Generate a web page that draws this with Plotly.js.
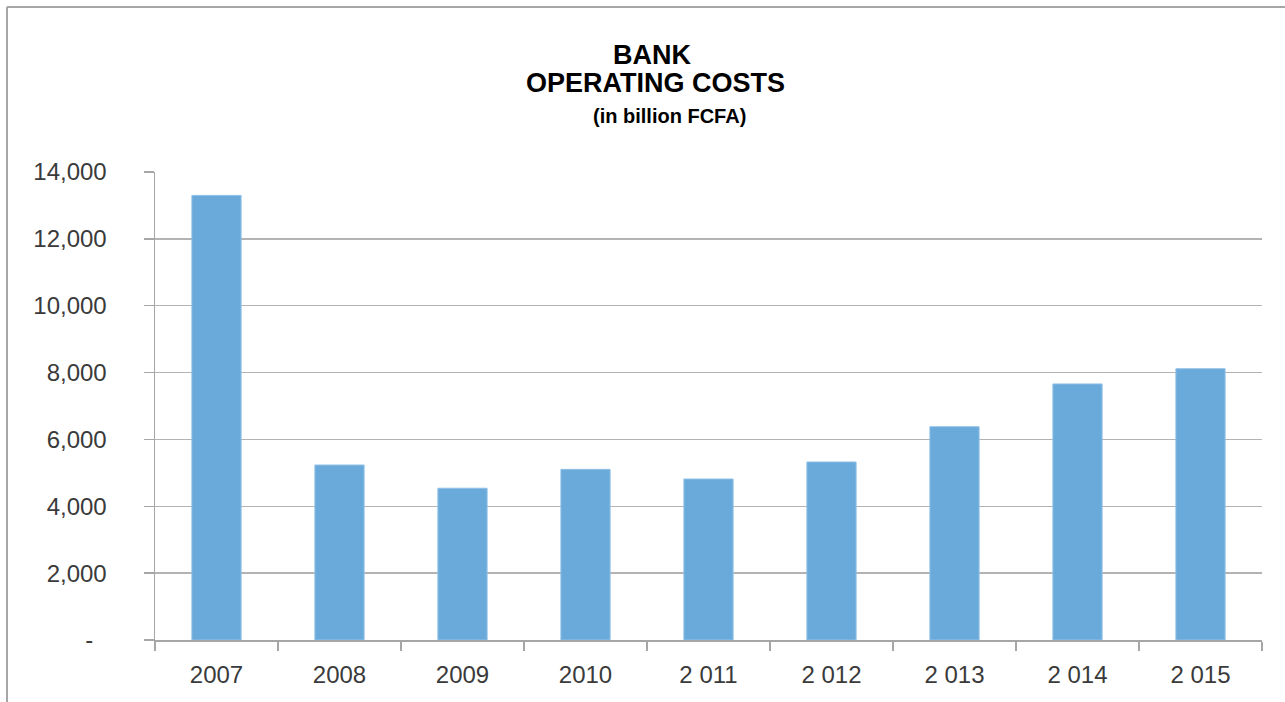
<!DOCTYPE html>
<html>
<head>
<meta charset="utf-8">
<script src="https://cdn.plot.ly/plotly-3.0.1.min.js"></script>
<style>
  html, body { margin: 0; padding: 0; background: #ffffff; }
  #chart { width: 1285px; height: 702px; }
</style>
</head>
<body>
<div id="chart"></div>
<script>
const years = ["2007", "2008", "2009", "2010", "2 011", "2 012", "2 013", "2 014", "2 015"];
const operatingCosts = [13300, 5235, 4540, 5105, 4815, 5325, 6380, 7660, 8115];
const yTickVals = [0, 2000, 4000, 6000, 8000, 10000, 12000, 14000];
const yTickText = ["-\u00a0\u00a0", "2,000", "4,000", "6,000", "8,000", "10,000", "12,000", "14,000"];
const titleLines = ["BANK", "OPERATING COSTS", "(in billion FCFA)"];

const gray = "#a6a6a6";
const labelFont = { family: "Liberation Sans, Arial, sans-serif", size: 24, color: "#3a3a3a" };

const trace = {
  type: "bar",
  x: years,
  y: operatingCosts,
  marker: { color: "#6aaadb", line: { color: "#8fc0e6", width: 1 } },
  hoverinfo: "x+y"
};

const layout = {
  width: 1285,
  height: 702,
  margin: { l: 155, r: 23, t: 172, b: 62, pad: 0 },
  paper_bgcolor: "#ffffff",
  plot_bgcolor: "#ffffff",
  showlegend: false,
  bargap: 0.6,
  font: labelFont,
  xaxis: {
    type: "category",
    showgrid: false,
    showline: true,
    linecolor: gray,
    linewidth: 1.5,
    ticks: "outside",
    tickson: "boundaries",
    ticklen: 9,
    tickcolor: gray,
    tickwidth: 1.5,
    tickfont: labelFont,
    ticklabelstandoff: 13,
    zeroline: false
  },
  yaxis: {
    range: [0, 14000],
    tickmode: "array",
    tickvals: yTickVals,
    ticktext: yTickText,
    showgrid: true,
    gridcolor: "#b3b3b3",
    gridwidth: 1.5,
    showline: true,
    linecolor: gray,
    linewidth: 1.5,
    ticks: "outside",
    ticklen: 10,
    tickcolor: gray,
    tickwidth: 1.5,
    tickfont: labelFont,
    ticklabelstandoff: 32,
    zeroline: false
  },
  shapes: [
    { type: "line", xref: "paper", yref: "paper", x0: -0.1337, x1: -0.1337, y0: 1.3526, y1: -0.2, line: { color: gray, width: 2 } },
    { type: "line", xref: "paper", yref: "paper", x0: -0.1337, x1: 1.03, y0: 1.3526, y1: 1.3526, line: { color: gray, width: 2 } }
  ],
  annotations: [
    { text: titleLines[0], xref: "paper", yref: "paper", x: 0.4489, y: 1.250, xanchor: "center", yanchor: "middle", showarrow: false,
      font: { family: "Liberation Sans, Arial, sans-serif", size: 27, color: "#000000", weight: "bold" } },
    { text: titleLines[1], xref: "paper", yref: "paper", x: 0.4521, y: 1.1905, xanchor: "center", yanchor: "middle", showarrow: false,
      font: { family: "Liberation Sans, Arial, sans-serif", size: 27, color: "#000000", weight: "bold" } },
    { text: titleLines[2], xref: "paper", yref: "paper", x: 0.4652, y: 1.1200, xanchor: "center", yanchor: "middle", showarrow: false,
      font: { family: "Liberation Sans, Arial, sans-serif", size: 20, color: "#000000", weight: "bold" } }
  ]
};

Plotly.newPlot("chart", [trace], layout, { displayModeBar: false, staticPlot: true });
</script>
</body>
</html>
